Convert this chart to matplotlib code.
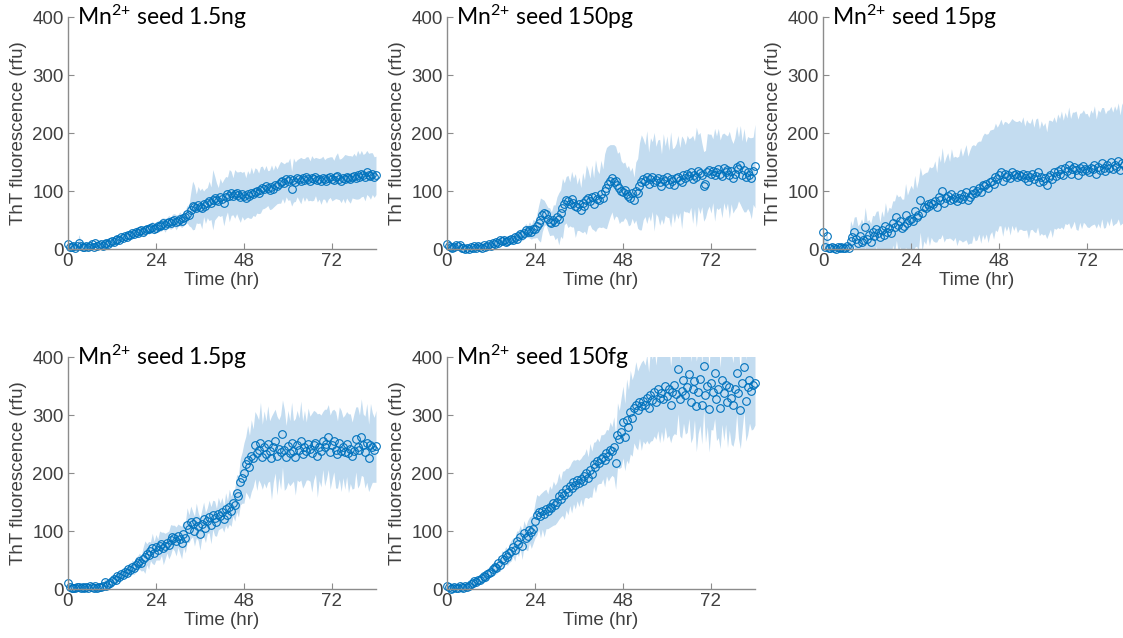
import numpy as np
import matplotlib
matplotlib.use("Agg")
import matplotlib.pyplot as plt

# readings every 0.5 hr, 0 to 84 hr
SAMPLE_HR = 0.5

titles = ["1.5ng", "150pg", "15pg", "1.5pg", "150fg"]

mean_1_5ng = [
    8, 4, 3, 6, 2, 5, 10, 6, 4, 3, 5, 3,
    5, 8, 4, 10, 6, 7, 9, 5, 8, 11, 9, 12,
    14, 12, 16, 18, 15, 20, 19, 23, 21, 25, 24, 27,
    26, 30, 28, 31, 33, 29, 32, 35, 34, 36, 38, 35,
    37, 40, 39, 42, 44, 41, 45, 47, 44, 48, 50, 46,
    49, 52, 48, 53, 55, 60, 58, 68, 75, 72, 70, 76,
    73, 70, 78, 74, 80, 83, 79, 85, 88, 84, 82, 89,
    86, 80, 90, 94, 92, 96, 91, 95, 97, 93, 90, 94,
    92, 88, 95, 91, 97, 94, 98, 100, 96, 102, 106, 103,
    108, 105, 102, 107, 104, 110, 108, 112, 115, 118, 113, 120,
    117, 121, 104, 119, 116, 122, 120, 118, 123, 119, 124, 121,
    118, 122, 120, 125, 119, 121, 117, 123, 120, 118, 122, 124,
    121, 119, 124, 126, 120, 118, 123, 121, 125, 122, 120, 124,
    126, 123, 128, 125, 130, 127, 124, 132, 128, 126, 130, 124,
    127,
]
sd_1_5ng = [
    6, 5, 5, 6, 5, 4, 15, 8, 5, 4, 4, 5,
    4, 5, 4, 6, 5, 4, 5, 4, 5, 6, 5, 5,
    5, 6, 5, 6, 5, 7, 6, 5, 7, 6, 8, 6,
    7, 8, 6, 9, 7, 8, 10, 7, 9, 8, 10, 9,
    8, 10, 9, 11, 10, 12, 9, 11, 10, 12, 11, 13,
    10, 12, 11, 13, 12, 15, 18, 30, 42, 38, 25, 32,
    28, 35, 22, 30, 26, 34, 28, 52, 38, 30, 24, 33,
    28, 40, 35, 30, 45, 38, 32, 42, 36, 40, 44, 38,
    42, 35, 40, 38, 44, 36, 42, 38, 35, 40, 37, 33,
    36, 30, 34, 38, 32, 35, 30, 33, 36, 31, 34, 30,
    33, 36, 30, 38, 34, 32, 36, 40, 33, 37, 35, 38,
    34, 39, 36, 33, 38, 35, 40, 37, 34, 39, 36, 35,
    38, 34, 37, 40, 35, 38, 36, 42, 37, 39, 41, 36,
    39, 37, 42, 38, 40, 36, 41, 38, 37, 40, 36, 35,
    33,
]

mean_150pg = [
    8, 5, 3, 1, 4, 7, 6, 7, 2, 1, 0, 2,
    0, 3, 1, 5, 2, 6, 4, 1, 7, 3, 5, 8,
    6, 10, 8, 12, 11, 15, 13, 16, 12, 14, 15, 17,
    16, 20, 18, 22, 26, 24, 28, 32, 30, 33, 29, 35,
    34, 40, 45, 50, 58, 62, 60, 52, 47, 44, 50, 46,
    55, 52, 62, 70, 78, 85, 82, 78, 86, 80, 75, 72,
    78, 68, 80, 75, 85, 88, 82, 90, 78, 92, 86, 84,
    95, 88, 100, 105, 112, 118, 122, 115, 117, 110, 106, 100,
    98, 102, 95, 92, 88, 97, 84, 100, 96, 108, 115, 120,
    118, 124, 112, 120, 125, 116, 119, 122, 115, 108, 121, 118,
    125, 112, 120, 118, 110, 122, 124, 119, 115, 128, 122, 130,
    126, 132, 120, 128, 124, 135, 131, 128, 108, 112, 133, 136,
    130, 135, 128, 133, 138, 130, 126, 140, 132, 137, 128, 134,
    122, 130, 142, 138, 145, 128, 136, 124, 132, 128, 122, 135,
    143,
]
sd_150pg = [
    5, 4, 4, 3, 4, 5, 4, 4, 3, 3, 3, 4,
    4, 3, 4, 5, 4, 5, 4, 5, 4, 5, 6, 5,
    6, 5, 6, 7, 6, 7, 6, 8, 7, 8, 7, 8,
    8, 9, 8, 10, 9, 10, 11, 12, 10, 14, 12, 16,
    15, 20, 30, 38, 28, 22, 18, 20, 24, 20, 26, 30,
    35, 45, 40, 52, 36, 40, 45, 38, 48, 42, 55, 40,
    46, 38, 52, 44, 60, 48, 40, 55, 45, 62, 50, 46,
    58, 50, 64, 70, 66, 62, 58, 65, 60, 55, 62, 52,
    50, 48, 45, 52, 46, 44, 40, 50, 60, 75, 82, 70,
    62, 80, 55, 72, 60, 85, 58, 66, 74, 56, 78, 60,
    70, 58, 82, 55, 65, 60, 72, 56, 80, 62, 58, 66,
    64, 60, 76, 58, 86, 62, 70, 55, 60, 58, 66, 62,
    68, 55, 80, 62, 70, 58, 72, 60, 65, 58, 75, 56,
    60, 62, 70, 55, 68, 58, 72, 60, 62, 64, 70, 58,
    72,
]

mean_15pg = [
    30, 4, 22, 2, 1, 3, 2, 0, 4, 1, 3, 2,
    1, 5, 2, 14, 20, 30, 18, 10, 22, 12, 15, 38,
    18, 25, 12, 30, 22, 35, 28, 20, 32, 25, 40, 30,
    36, 28, 45, 38, 55, 42, 48, 36, 40, 58, 45, 50,
    52, 48, 65, 55, 58, 85, 62, 72, 70, 78, 74, 80,
    78, 82, 72, 90, 84, 100, 80, 88, 92, 85, 95, 86,
    90, 82, 88, 95, 86, 92, 98, 84, 90, 94, 102, 96,
    100, 106, 98, 110, 108, 112, 105, 115, 118, 112, 125, 120,
    128, 132, 118, 130, 125, 128, 122, 133, 127, 130, 124, 128,
    126, 130, 122, 128, 118, 125, 130, 120, 126, 132, 115, 124,
    118, 122, 110, 124, 128, 120, 132, 126, 135, 130, 138, 128,
    140, 134, 145, 130, 138, 142, 136, 128, 140, 135, 143, 138,
    136, 132, 140, 138, 145, 130, 142, 136, 148, 140, 135, 144,
    140, 150, 138, 145, 142, 152, 136, 148, 144, 140, 146, 142,
    140,
]
sd_15pg = [
    10, 8, 10, 6, 4, 5, 4, 3, 4, 5, 5, 4,
    5, 8, 10, 35, 20, 25, 38, 30, 22, 40, 28, 34,
    30, 26, 32, 28, 35, 30, 38, 26, 34, 30, 40, 32,
    36, 42, 38, 45, 40, 48, 44, 50, 46, 55, 48, 52,
    58, 55, 62, 50, 60, 56, 65, 58, 62, 55, 68, 60,
    64, 70, 60, 72, 66, 75, 68, 70, 74, 66, 78, 72,
    70, 76, 72, 80, 74, 78, 82, 76, 80, 84, 78, 82,
    84, 80, 88, 85, 92, 86, 94, 90, 88, 95, 92, 90,
    88, 92, 96, 90, 94, 88, 98, 92, 95, 90, 96, 94,
    92, 98, 90, 95, 100, 92, 96, 90, 98, 94, 92, 97,
    94, 96, 92, 98, 94, 100, 96, 92, 98, 95, 100, 94,
    96, 92, 100, 95, 98, 94, 102, 96, 94, 100, 97, 95,
    98, 95, 100, 96, 102, 94, 98, 100, 96, 104, 98, 95,
    100, 96, 98, 102, 97, 100, 95, 104, 98, 100, 96, 98,
    96,
]

mean_1_5pg = [
    10, 3, 2, 1, 2, 3, 4, 2, 3, 1, 4, 2,
    5, 3, 2, 6, 1, 4, 3, 5, 12, 6, 9, 11,
    14, 18, 16, 22, 20, 26, 25, 30, 28, 34, 32, 38,
    36, 42, 45, 48, 44, 52, 55, 60, 58, 65, 70, 62,
    72, 68, 75, 78, 70, 74, 80, 76, 85, 90, 88, 82,
    92, 86, 80, 95, 88, 110, 104, 115, 112, 100, 118, 108,
    95, 112, 120, 106, 118, 125, 110, 128, 122, 115, 130, 126,
    132, 120, 138, 128, 142, 134, 148, 145, 165, 160, 185, 192,
    200, 215, 222, 210, 230, 226, 248, 235, 240, 252, 228, 245,
    232, 250, 238, 226, 244, 255, 230, 242, 236, 268, 240, 228,
    246, 234, 252, 238, 228, 248, 240, 256, 232, 244, 238, 250,
    242, 235, 248, 252, 230, 245, 238, 256, 244, 250, 262, 236,
    248, 256, 240, 232, 252, 238, 244, 236, 250, 234, 242, 230,
    238, 258, 244, 240, 262, 248, 236, 252, 226, 248, 244, 240,
    246,
]
sd_1_5pg = [
    8, 4, 4, 3, 3, 4, 4, 3, 3, 4, 3, 4,
    4, 5, 4, 5, 4, 6, 5, 6, 7, 6, 7, 8,
    8, 7, 9, 8, 10, 9, 8, 10, 9, 11, 10, 12,
    11, 13, 12, 14, 13, 20, 28, 18, 24, 16, 26, 20,
    22, 18, 25, 20, 28, 22, 18, 24, 26, 20, 22, 25,
    20, 24, 28, 22, 26, 30, 24, 28, 22, 26, 30, 24,
    28, 24, 30, 26, 22, 28, 32, 25, 30, 24, 28, 22,
    26, 22, 28, 24, 30, 26, 22, 28, 32, 36, 40, 44,
    52, 48, 60, 55, 62, 50, 58, 65, 52, 70, 56, 62,
    58, 66, 52, 72, 60, 55, 68, 50, 64, 58, 70, 54,
    62, 56, 70, 52, 66, 60, 55, 68, 58, 64, 50, 62,
    56, 68, 60, 54, 72, 58, 62, 50, 66, 60, 56, 64,
    60, 54, 66, 58, 62, 70, 52, 64, 56, 68, 60, 58,
    64, 56, 70, 60, 66, 54, 62, 68, 58, 72, 60, 56,
    62,
]

mean_150fg = [
    6, 3, 0, 2, 4, 1, 2, 5, 3, 2, 5, 4,
    6, 9, 10, 14, 12, 16, 15, 19, 22, 20, 26, 28,
    30, 34, 38, 36, 45, 42, 52, 50, 58, 55, 62, 66,
    72, 68, 82, 78, 90, 75, 96, 88, 92, 102, 98, 104,
    118, 128, 132, 126, 135, 130, 138, 134, 142, 140, 148, 145,
    150, 160, 156, 165, 162, 172, 168, 178, 175, 185, 180, 188,
    182, 190, 186, 195, 200, 192, 205, 198, 215, 210, 220, 218,
    224, 228, 222, 235, 230, 240, 238, 245, 218, 265, 258, 270,
    288, 262, 292, 280, 305, 295, 312, 318, 308, 322, 315, 325,
    318, 330, 312, 335, 326, 340, 322, 345, 330, 338, 328, 350,
    332, 345, 318, 340, 352, 336, 380, 328, 342, 360, 335, 348,
    370, 322, 345, 358, 315, 340, 362, 318, 385, 335, 350, 310,
    355, 340, 372, 328, 345, 312, 360, 338, 352, 322, 348, 330,
    318, 345, 372, 338, 308, 355, 382, 325, 348, 360, 342, 352,
    355,
]
sd_150fg = [
    5, 4, 3, 4, 3, 4, 3, 4, 4, 3, 4, 5,
    5, 6, 5, 7, 6, 8, 7, 8, 9, 8, 10, 9,
    10, 11, 12, 10, 13, 12, 14, 13, 15, 14, 16, 18,
    16, 20, 18, 22, 20, 24, 22, 20, 26, 22, 28, 25,
    30, 35, 28, 38, 32, 40, 34, 30, 36, 32, 38, 34,
    35, 40, 32, 38, 42, 36, 40, 34, 44, 38, 42, 36,
    40, 35, 44, 38, 42, 36, 46, 40, 38, 44, 40, 36,
    42, 38, 46, 40, 44, 48, 42, 52, 46, 56, 50, 60,
    62, 58, 70, 64, 72, 66, 60, 74, 68, 62, 76, 70,
    68, 74, 62, 80, 70, 76, 64, 72, 78, 66, 74, 70,
    72, 80, 66, 76, 84, 70, 78, 64, 82, 74, 68, 78,
    76, 70, 84, 66, 78, 72, 80, 68, 76, 82, 70, 74,
    80, 66, 78, 72, 84, 70, 76, 82, 68, 78, 74, 80,
    72, 84, 70, 78, 66, 80, 76, 70, 82, 74, 68, 76,
    72,
]

means = [mean_1_5ng, mean_150pg, mean_15pg, mean_1_5pg, mean_150fg]
sds = [sd_1_5ng, sd_150pg, sd_15pg, sd_1_5pg, sd_150fg]

plt.rcParams['font.family'] = ['Liberation Sans', 'DejaVu Sans']
plt.rcParams['mathtext.default'] = 'regular'

line_blue = '#0072BD'
band_blue = '#c3dcf0'
axis_grey = '#8c8c8c'
text_grey = '#404040'

fig = plt.figure(figsize=(11.23, 6.38), dpi=100)

# axes boxes in figure fractions: (left, bottom)
lefts = [0.0605, 0.398, 0.7329, 0.0605, 0.398]
bottoms = [0.6097, 0.6097, 0.6097, 0.0768, 0.0768]
w, h = 0.2743, 0.3636

for i in range(5):
    ax = fig.add_axes([lefts[i], bottoms[i], w, h])
    y = np.array(means[i], dtype=float)
    s = np.array(sds[i], dtype=float)
    t = np.arange(len(y)) * SAMPLE_HR

    ax.fill_between(t, y - s, y + s, color=band_blue, linewidth=0)
    ax.plot(t, y, 'o', mfc='none', mec=line_blue, ms=5.5, mew=0.8, clip_on=False)

    ax.set_xlim(0, 84)
    ax.set_ylim(0, 400)
    ax.set_xticks([0, 24, 48, 72])
    ax.set_yticks([0, 100, 200, 300, 400])

    for side in ['top', 'right']:
        ax.spines[side].set_visible(False)
    for side in ['left', 'bottom']:
        ax.spines[side].set_color(axis_grey)
        ax.spines[side].set_linewidth(1.0)
    ax.tick_params(direction='in', length=4, color=axis_grey,
                   labelcolor=text_grey, labelsize=13.5, pad=3)

    ax.set_xlabel('Time (hr)', fontsize=13.5, color=text_grey, labelpad=1)
    ax.set_ylabel('ThT fluorescence (rfu)', fontsize=13.5, color=text_grey, labelpad=4)

    ax.text(0.03, 1.0, r'Mn$^{2{+}}$ seed ' + titles[i], transform=ax.transAxes,
            ha='left', va='center', fontsize=16.5, family='Lato', color='black')

fig.savefig('out.png', dpi=100)
